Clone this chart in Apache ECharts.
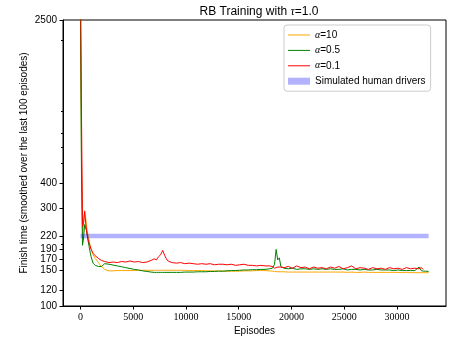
<!DOCTYPE html>
<html>
<head>
<meta charset="utf-8">
<script src="https://cdn.jsdelivr.net/npm/echarts@6/dist/echarts.min.js"></script>
<style>
  html, body { margin: 0; padding: 0; background: #fff; }
  #chart { width: 462px; height: 341px; }
</style>
</head>
<body>
<div id="chart"></div>
<script>
// episodes shared by the three training runs
var episodes = [0, 100, 200, 300, 400, 500, 600, 700, 800, 900, 1000, 1200, 1400, 1700, 2000,
  2300, 2700, 3100, 3500, 3900, 4300, 4700, 5100, 5500, 5900, 6300, 6700,
  7000, 7200, 7400, 7600, 7800, 8000, 8200, 8400, 8700, 9100, 9500, 9900,
  10300, 10700, 11100, 11500, 11900, 12300, 12700, 13100, 13500, 13900, 14300, 14700,
  15100, 15500, 15900, 16300, 16700, 17100, 17500, 17900, 18200, 18400, 18550, 18700, 18850, 19000,
  19300, 19700, 20100, 20500, 20900, 21300, 21700, 22100, 22500, 22900, 23300, 23700,
  24100, 24500, 24900, 25300, 25700, 26100, 26500, 26900, 27300, 27700, 28100, 28500,
  28900, 29300, 29700, 30100, 30500, 30900, 31300, 31700, 32100, 32300, 32500, 32700, 33000]

// alpha = 10
var alpha10 = [3000, 550, 215, 255, 292, 270, 242, 226, 212, 200, 191, 178, 171, 163, 156,
  151, 148.5, 148.5, 149, 149, 149, 149, 149, 149.5, 149.5, 149.5, 149.5,
  149.5, 149.5, 149.5, 149.5, 149.5, 149.5, 149.5, 149.5, 149.5, 149.5, 149.5, 149.5,
  149, 149, 149, 149, 148.5, 148.5, 148.5, 148.5, 148, 148, 148, 148,
  148, 148.5, 148.5, 148.5, 149, 149, 149, 148.5, 148, 147.5, 147.5, 147, 147, 147,
  147, 146.5, 146.5, 146.5, 146.5, 146.5, 146.5, 146.5, 146.5, 146.5, 146.5, 146.5,
  146.5, 146.5, 146.5, 146, 146.5, 146, 146, 146.5, 146, 146, 146, 146,
  146, 146, 146, 146, 145.5, 146, 145.5, 145.5, 145.5, 145.5, 145.5, 145.5, 145.5]

// alpha = 0.5
var alpha05 = [3000, 450, 198, 215, 250, 255, 232, 212, 198, 186, 175, 162, 158, 156, 156,
  161, 160, 158.5, 157, 155.5, 154, 152.5, 151, 150, 148.5, 147.5, 146.5,
  146, 146, 146, 146, 146, 146, 146, 146, 146, 146, 146, 146.5,
  146.5, 146.5, 147, 147, 147, 147.5, 147.5, 148, 148, 148.5, 149, 149,
  149.5, 150, 150, 150.5, 150.5, 151, 151, 152, 153, 160, 189, 168, 172, 156,
  153, 152, 153, 151, 152, 152, 151, 152, 151, 152, 151, 152,
  151, 151, 152, 150, 151, 151, 150, 151, 150, 150, 151, 150,
  150, 150, 149, 150, 149, 149, 149, 149, 155, 149, 148, 148, 147.5]

// alpha = 0.1
var alpha01 = [5000, 900, 245, 255, 290, 255, 228, 215, 205, 198, 190, 181, 176, 171, 167,
  165, 163, 164, 163, 165, 164, 166, 164, 165, 163, 164, 167,
  170, 168, 174, 178, 187, 176, 168, 165, 163, 162, 163, 161,
  162, 161, 160, 161, 160, 161, 159, 160, 160, 159, 160, 158,
  159, 160, 158, 158, 157, 158, 157, 157, 156, 153, 154, 155, 153, 155,
  154, 156, 153, 157, 154, 155, 152, 155, 153, 154, 152, 155,
  153, 156, 152, 154, 157, 152, 154, 153, 151, 154, 152, 153,
  151, 154, 152, 153, 151, 154, 152, 153, 152, 154, 151, null, null]

// simulated human drivers (constant level)
var humanEpisodes = [0, 33000]
var humanValues = [220, 220]

var yLabelValues = [100, 120, 150, 170, 190, 220, 300, 400, 2500]
var yMinorValues = [200, 500, 600, 700, 900, 2000]
var xTickValues = [0, 5000, 10000, 15000, 20000, 25000, 30000]

function pairs (xs, ys) {
  return xs.map(function (x, i) { return [x, ys[i]] })
}

var chart = echarts.init(document.getElementById('chart'))
var sans = 'Liberation Sans'
var serif = 'Liberation Serif'
var lineIcon = 'path://M0,0L22,0L22,1L0,1Z'
var legendNames = {
  'α=10': '{i|α}=10',
  'α=0.5': '{i|α}=0.5',
  'α=0.1': '{i|α}=0.1',
  'Simulated human drivers': 'Simulated human drivers'
}

var option = {
  animation: false,
  backgroundColor: '#fff',
  title: {
    text: 'RB Training with {i|τ}=1.0',
    left: 254,
    textAlign: 'center',
    top: 1,
    textStyle: {
      fontFamily: sans,
      fontSize: 12,
      fontWeight: 'normal',
      color: '#000',
      rich: { i: { fontFamily: serif, fontStyle: 'italic', fontSize: 12, color: '#000' } }
    }
  },
  legend: {
    orient: 'vertical',
    left: 284,
    top: 25,
    padding: [4, 5, 4, 4],
    itemWidth: 22,
    itemHeight: 7,
    itemGap: 3.4,
    symbolKeepAspect: true,
    backgroundColor: 'rgba(255,255,255,0.8)',
    borderColor: '#cccccc',
    borderWidth: 1,
    borderRadius: 3,
    formatter: function (name) { return legendNames[name] },
    textStyle: {
      fontFamily: sans,
      fontSize: 10,
      lineHeight: 12,
      color: '#000',
      rich: { i: { fontFamily: serif, fontStyle: 'italic', fontSize: 10, color: '#000' } }
    },
    data: [
      { name: 'α=10', icon: lineIcon },
      { name: 'α=0.5', icon: lineIcon },
      { name: 'α=0.1', icon: lineIcon },
      { name: 'Simulated human drivers', icon: 'rect', itemStyle: { color: 'rgba(0,0,255,0.3)' } }
    ]
  },
  grid: {
    left: 63,
    right: 16,
    top: 20,
    bottom: 35,
    show: true,
    borderColor: '#000',
    borderWidth: 1
  },
  xAxis: {
    type: 'value',
    min: -1650,
    max: 34650,
    name: 'Episodes',
    nameLocation: 'middle',
    nameGap: 20,
    nameMoveOverlap: false,
    nameTextStyle: { fontFamily: sans, fontSize: 10, color: '#000' },
    axisLine: { show: true, onZero: false, lineStyle: { color: '#000', width: 1 } },
    axisTick: { show: true, length: 3.5, customValues: xTickValues, lineStyle: { color: '#000' } },
    axisLabel: {
      customValues: xTickValues,
      formatter: function (v) { return String(v) },
      fontFamily: serif, fontSize: 10, color: '#000', margin: 6
    },
    splitLine: { show: false }
  },
  yAxis: [
    {
      type: 'log',
      logBase: 10,
      min: 100,
      max: 2500,
      name: 'Finish time (smoothed over the last 100 episodes)',
      nameLocation: 'middle',
      nameGap: 34,
      nameMoveOverlap: false,
      nameTextStyle: { fontFamily: sans, fontSize: 10, color: '#000' },
      axisLine: { show: true, onZero: false, lineStyle: { color: '#000', width: 1 } },
      axisTick: { show: true, length: 3.5, customValues: yLabelValues, lineStyle: { color: '#000' } },
      axisLabel: {
        customValues: yLabelValues,
        formatter: function (v) { return String(Math.round(v)) },
        fontFamily: sans, fontSize: 10, color: '#000', margin: 6
      },
      splitLine: { show: false }
    },
    {
      type: 'log',
      logBase: 10,
      min: 100,
      max: 2500,
      position: 'left',
      axisLine: { show: false, onZero: false },
      axisTick: { show: true, length: 2, customValues: yMinorValues, lineStyle: { color: '#000' } },
      axisLabel: { show: false },
      splitLine: { show: false }
    }
  ],
  series: [
    {
      name: 'α=10',
      type: 'line',
      symbol: 'none',
      color: '#ffa500',
      lineStyle: { width: 1 },
      data: pairs(episodes, alpha10)
    },
    {
      name: 'α=0.5',
      type: 'line',
      symbol: 'none',
      color: '#008000',
      lineStyle: { width: 1 },
      data: pairs(episodes, alpha05)
    },
    {
      name: 'α=0.1',
      type: 'line',
      symbol: 'none',
      color: '#ff0000',
      lineStyle: { width: 1 },
      data: pairs(episodes, alpha01)
    },
    {
      name: 'Simulated human drivers',
      type: 'line',
      symbol: 'none',
      color: 'rgba(0,0,255,0.3)',
      lineStyle: { width: 4.5 },
      data: pairs(humanEpisodes, humanValues)
    }
  ]
}

option && chart.setOption(option)
</script>
</body>
</html>
